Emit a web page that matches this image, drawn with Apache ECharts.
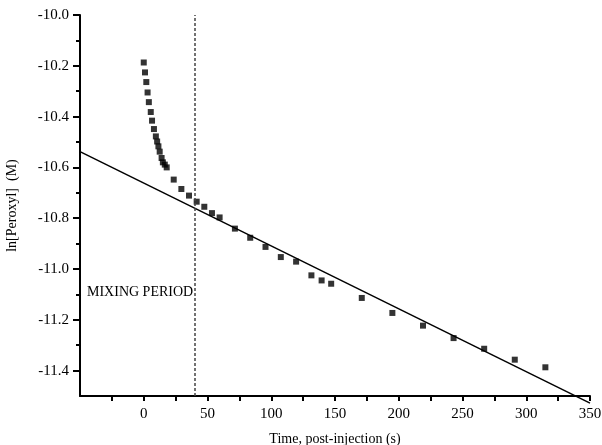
<!DOCTYPE html>
<html>
<head>
<meta charset="utf-8">
<script src="https://cdn.jsdelivr.net/npm/echarts@6/dist/echarts.min.js"></script>
<style>
  html, body { margin: 0; padding: 0; background: #fff; }
  #chart { width: 602px; height: 445px; }
</style>
</head>
<body>
<div id="chart"></div>
<script>
// measured points: time (s) vs ln[Peroxyl]
const timeS = [0, 1, 2, 3, 4, 5.5, 6.5, 8, 9.5, 10.5, 11.5, 12.5, 14, 15, 16.5, 18,
  23.5, 29.5, 35.5, 41.5, 47.5, 53.5, 59.5, 71.5, 83.5, 95.5, 107.5, 119.5,
  131.5, 139.5, 147, 171, 195, 219, 243, 267, 291, 315]
const lnPeroxyl = [-10.187, -10.226, -10.264, -10.305, -10.343, -10.382, -10.416,
  -10.449, -10.478, -10.498, -10.517, -10.538, -10.563, -10.580, -10.589, -10.600,
  -10.648, -10.685, -10.711, -10.735, -10.755, -10.780, -10.797, -10.841, -10.877,
  -10.913, -10.953, -10.971, -11.025, -11.045, -11.058, -11.114, -11.173, -11.223,
  -11.272, -11.314, -11.357, -11.387]

// linear fit endpoints
const fitX = [-50, 350]
const fitY = [-10.538, -11.528]

const mixingEnd = 40

const xLabels = [0, 50, 100, 150, 200, 250, 300, 350]
const xTicks = [-25, 0, 25, 50, 75, 100, 125, 150, 175, 200, 225, 250, 275, 300, 325, 350]
const yLabels = [-11.4, -11.2, -11.0, -10.8, -10.6, -10.4, -10.2, -10.0]
const yMinorTicks = [-11.3, -11.1, -10.9, -10.7, -10.5, -10.3, -10.1]

const font = 'Liberation Serif'

const chart = echarts.init(document.getElementById('chart'))
const axisLine = { show: true, onZero: false, lineStyle: { color: '#000', width: 2 } }

const option = {
  animation: false,
  grid: { left: 80, right: 12, top: 15, bottom: 49, outerBoundsMode: 'none', containLabel: false },
  xAxis: {
    type: 'value',
    min: -50,
    max: 350,
    name: 'Time, post-injection (s)',
    nameLocation: 'middle',
    nameGap: 36,
    nameTextStyle: { fontFamily: font, fontSize: 14, color: '#000' },
    axisLine: axisLine,
    axisTick: { show: true, customValues: xTicks, length: 5, lineStyle: { color: '#000', width: 2 } },
    axisLabel: {
      customValues: xLabels, margin: 11,
      fontFamily: font, fontSize: 15, color: '#000',
    },
    splitLine: { show: false },
  },
  yAxis: [
    {
      type: 'value',
      min: -11.5,
      max: -10.0,
      name: 'ln[Peroxyl]  (M)',
      nameLocation: 'middle',
      nameGap: 61,
      nameTextStyle: { fontFamily: font, fontSize: 14, color: '#000' },
      axisLine: axisLine,
      axisTick: { show: true, customValues: yLabels, length: 7, lineStyle: { color: '#000', width: 2 } },
      axisLabel: {
        customValues: yLabels, margin: 11,
        fontFamily: font, fontSize: 15, color: '#000',
        formatter: (v) => v.toFixed(1),
      },
      splitLine: { show: false },
    },
    {
      type: 'value',
      position: 'left',
      min: -11.5,
      max: -10.0,
      axisLine: { show: false, onZero: false },
      axisTick: { show: true, customValues: yMinorTicks, length: 4, lineStyle: { color: '#000', width: 2 } },
      axisLabel: { show: false },
      splitLine: { show: false },
    },
  ],
  graphic: [
    {
      type: 'text',
      left: 87,
      top: 285,
      style: { text: 'MIXING PERIOD', font: '14px "Liberation Serif"', fill: '#000' },
    },
  ],
  series: [
    {
      type: 'line',
      data: fitX.map((x, i) => [x, fitY[i]]),
      symbol: 'none',
      clip: false,
      lineStyle: { color: '#000', width: 1.5 },
      z: 2,
      markLine: {
        silent: true,
        symbol: 'none',
        label: { show: false },
        lineStyle: { color: '#444', type: [3, 2], width: 1.5 },
        data: [{ xAxis: mixingEnd }],
      },
    },
    {
      type: 'scatter',
      data: timeS.map((t, i) => [t, lnPeroxyl[i]]),
      symbol: 'rect',
      symbolSize: 6,
      itemStyle: { color: '#000' },
      z: 3,
    },
  ],
}

chart.setOption(option)
</script>
</body>
</html>
